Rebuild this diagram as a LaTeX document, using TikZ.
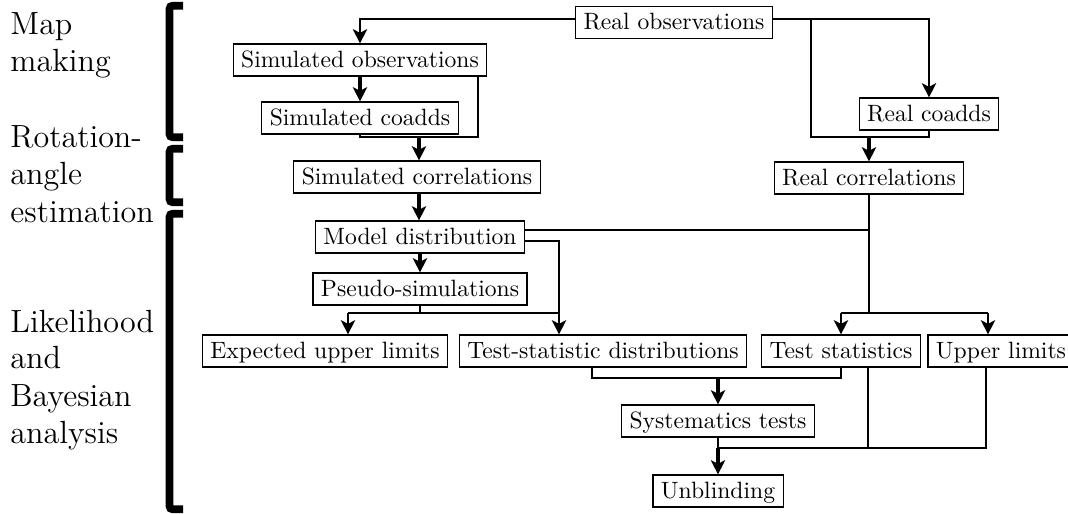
\documentclass[tikz,border=0pt]{standalone}
\usetikzlibrary{arrows.meta}
\begin{document}
\begin{tikzpicture}[x=0.4237pt, y=-0.4237pt,
  box/.style={draw, line width=0.5pt, inner xsep=3.4pt, inner ysep=3pt, text height=6.94pt, text depth=0.6pt},
  conn/.style={line width=1pt},
  arr/.style={line width=1pt, -{Stealth[length=6pt, width=6pt, inset=1.5pt]}},
  tarr/.style={line width=1.5pt, -{Stealth[length=6pt, width=6pt, inset=1.5pt]}},
  brk/.style={line width=3.2pt, rounded corners=1.2pt},
  lab/.style={font=\fontsize{13.6}{16}\selectfont, anchor=base west, inner sep=0pt}]
\useasboundingbox (0,0) rectangle (1068,514);

% side labels
\node[lab] (l1a) at (10,35) {Map};
\node[lab] (l1b) at (10,72) {making};
\node[lab] (l2a) at (10,148) {Rotation-};
\node[lab] (l2b) at (10,185) {angle};
\node[lab] (l2c) at (10,222) {estimation};
\node[lab] (l3a) at (10,332) {Likelihood};
\node[lab] (l3b) at (10,369) {and};
\node[lab] (l3c) at (10,406) {Bayesian};
\node[lab] (l3d) at (10,443) {analysis};

% brackets
\draw[brk] (183,5.75) -- (169.5,5.75) -- (169.5,137.25) -- (183,137.25);
\draw[brk] (183,148.75) -- (169.5,148.75) -- (169.5,202.25) -- (183,202.25);
\draw[brk] (183,213.75) -- (169.5,213.75) -- (169.5,509.25) -- (183,509.25);

% nodes
\node[box] (RO) at (674,22.5) {Real observations};
\node[box] (SO) at (360,60) {Simulated observations};
\node[box] (SC) at (360,118) {Simulated coadds};
\node[box] (RC) at (929,114) {Real coadds};
\node[box] (SCR) at (417,177) {Simulated correlations};
\node[box] (RCR) at (869,178) {Real correlations};
\node[box] (MD) at (420,237) {Model distribution};
\node[box] (PS) at (420,289) {Pseudo-simulations};
\node[box] (EU) at (325,351) {Expected upper limits};
\node[box] (TD) at (603,351) {Test-statistic distributions};
\node[box] (TS) at (841,351) {Test statistics};
\node[box] (UL) at (1001,351) {Upper limits};
\node[box] (ST) at (718,421) {Systematics tests};
\node[box] (UB) at (718,491) {Unblinding};

% junction coordinates
\coordinate (rb) at (811,19);
\coordinate (rm) at (811,137);
\coordinate (rj) at (869,137);
\coordinate (sm) at (478,137);
\coordinate (sj) at (419,137);
\coordinate (tdx) at (559,313);
\coordinate (pl) at (348,313);
\coordinate (rv) at (869,313);
\coordinate (tl) at (841,313);
\coordinate (ur) at (988,313);
\coordinate (ml) at (592,378);
\coordinate (mj) at (718,378);
\coordinate (bj) at (718,448);
\coordinate (bt) at (868,448);
\coordinate (bu) at (986,448);

% real observations branches
\draw[arr] (RO.west |- rb) -| (SO.north);
\draw[arr] (RO.east |- rb) -| (RC.north);
\draw[conn] (rb) -- (rm) -| (RC.south);
\draw[tarr] (rj) -- (rj |- RCR.north);

% simulation chain
\draw[tarr] (SO.south) -- (SC.north);
\draw[conn] (SO.south -| sm) -- (sm) -| (SC.south);
\draw[tarr] (sj) -- (sj |- SCR.north);
\draw[tarr] (sj |- SCR.south) -- (sj |- MD.north);
\draw[tarr] (MD.south) -- (PS.north);

% model distribution outputs
\draw[conn] ([yshift=3pt]MD.east) -- ([yshift=3pt]MD.east -| rv);
\draw[arr] ([yshift=-1.7pt]MD.east) -| (tdx |- TD.north);
\draw[conn] (PS.south) -- (PS.south |- pl);
\draw[conn] (pl) -- (tdx);
\draw[arr] (pl) -- (pl |- EU.north);

% real correlations outputs
\draw[conn] (RCR.south) -- (rv);
\draw[conn] (tl) -- (ur);
\draw[arr] (tl) -- (tl |- TS.north);
\draw[arr] (ur) -- (ur |- UL.north);

% systematics
\draw[conn] (ml |- TD.south) -- (ml) -- (mj) -- (mj -| TS.south) -- (TS.south);
\draw[tarr] (mj) -- (mj |- ST.north);

% unblinding
\draw[conn] (bt |- TS.south) -- (bt);
\draw[conn] (bu |- UL.south) -- (bu) -- (bj);
\draw[conn] (ST.south) -- (bj);
\draw[tarr] (bj) -- (UB.north);
\end{tikzpicture}
\end{document}
